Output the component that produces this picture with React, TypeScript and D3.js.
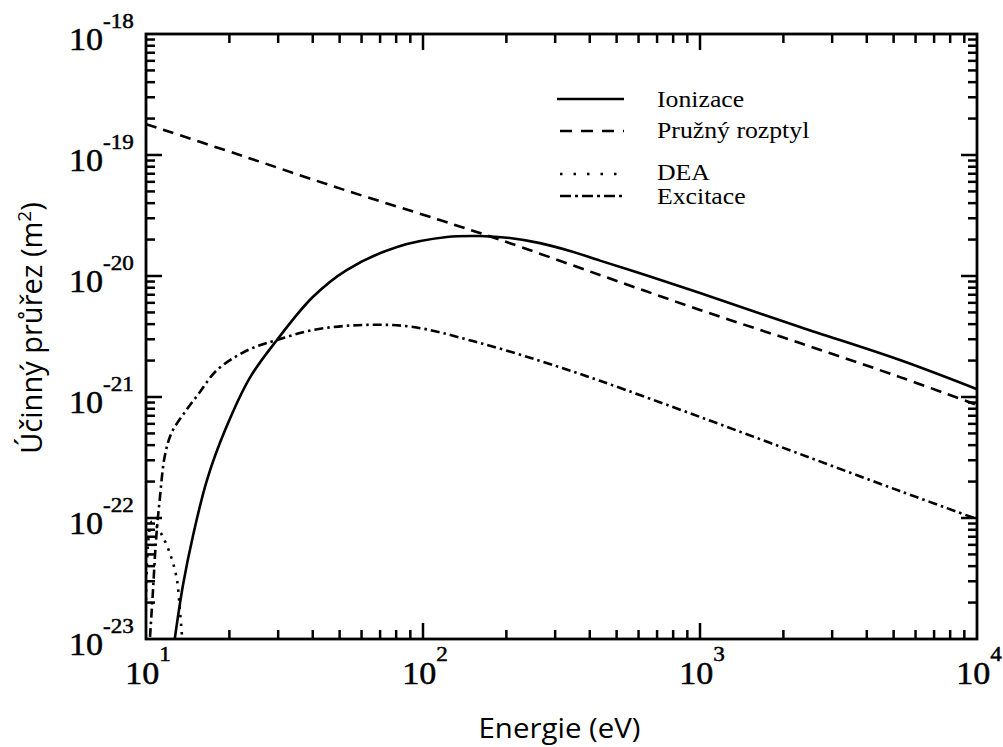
import React from "react";
import * as d3 from "d3";

// ---- data ----
const ionE = [12.7, 13.6, 14.8, 16.6, 19.3, 23.7, 29.7, 40, 53, 80.6, 122, 160.6, 206, 264.5, 339.5, 435.5, 660, 1000, 2296, 5270, 10000];
const ionS = [1e-23, 2.79e-23, 7.24e-23, 2.06e-22, 5.33e-22, 1.44e-21, 2.96e-21, 6.7e-21, 1.12e-20, 1.74e-20, 2.1e-20, 2.14e-20, 2.06e-20, 1.87e-20, 1.61e-20, 1.34e-20, 9.9e-21, 7.24e-21, 3.79e-21, 2.02e-21, 1.16e-21];

const elE = [10, 21.8, 50, 115, 190, 435, 1000, 2296, 5272, 10000];
const elS = [1.8e-19, 1.0e-19, 5.3e-20, 2.9e-20, 1.99e-20, 1.02e-20, 5.24e-21, 2.79e-21, 1.46e-21, 8.6e-22];

const deaE = [10, 10.2, 10.5, 10.96, 11.5, 12.2, 12.9, 13.26, 13.5];
const deaS = [2.1e-23, 6.6e-23, 9.3e-23, 8.4e-23, 7.0e-23, 5.1e-23, 3.2e-23, 1.7e-23, 1.04e-23];

const exE = [10.34, 10.6, 10.87, 11.23, 11.71, 12.41, 13.83, 15.66, 17.75, 20.96, 24.75, 29.7, 40, 60.8, 92, 151.3, 264.5, 435.5, 1000, 2296, 5270, 10000];
const exS = [1.04e-23, 2.54e-23, 6.58e-23, 1.49e-22, 3.32e-22, 5.14e-22, 7.52e-22, 1.1e-21, 1.61e-21, 2.14e-21, 2.59e-21, 2.96e-21, 3.58e-21, 3.94e-21, 3.79e-21, 2.9e-21, 1.99e-21, 1.36e-21, 6.84e-22, 3.38e-22, 1.67e-22, 9.8e-23];

const seriesNames = ["Ionizace", "Pružný rozptyl", "DEA", "Excitace"];
const xTickExps = [1, 2, 3, 4];
const yTickExps = [-18, -19, -20, -21, -22, -23];
const xTitle = "Energie (eV)";
const yTitle = "Účinný průřez (m";

// ---- layout ----
const W = 1003, H = 747;
const L = 146, R = 977, T = 34, B = 639;

const dashes = ["none", "11,7", "2.5,6", "9,4,2.5,4"];
const legendDashes = ["none", "12,9", "2.5,11", "11,4,3,4"];
const serif = "'Liberation Serif', 'Times New Roman', serif";

export default function App() {
  const x = d3.scaleLog().domain([10, 1e4]).range([L, R]);
  const y = d3.scaleLog().domain([1e-23, 1e-18]).range([B, T]);
  const line = d3
    .line<[number, number]>()
    .x((d) => x(d[0]))
    .y((d) => y(d[1]))
    .curve(d3.curveCatmullRom.alpha(0.5));

  const series = [
    d3.zip(ionE, ionS) as [number, number][],
    d3.zip(elE, elS) as [number, number][],
    d3.zip(deaE, deaS) as [number, number][],
    d3.zip(exE, exS) as [number, number][],
  ];

  const xt = x.ticks();
  const yt = y.ticks();
  const isMajor = (v: number) => Math.abs(Math.log10(v) - Math.round(Math.log10(v))) < 1e-6;
  const MAJ = 16, MIN = 9;

  const legendY = [99, 131, 174, 196];
  const legendTextY = [107, 138, 180, 204];

  return (
    <svg width={W} height={H} style={{ position: "absolute", left: 0, top: 0, background: "#fff" }}>
      <defs>
        <clipPath id="plot">
          <rect x={L} y={T} width={R - L} height={B - T} />
        </clipPath>
      </defs>
      <rect x={0} y={0} width={W} height={H} fill="#fff" />

      {/* curves */}
      <g clipPath="url(#plot)">
        {series.map((s, i) => (
          <path
            key={i}
            d={line(s) || ""}
            fill="none"
            stroke="#000"
            strokeWidth={2.6}
            strokeDasharray={dashes[i]}
          />
        ))}
      </g>

      {/* ticks */}
      <g stroke="#000" strokeWidth={2.5}>
        {xt.map((v, i) => {
          const len = isMajor(v) ? MAJ : MIN;
          const px = x(v);
          if (px <= L + 1 || px >= R - 1) return null;
          return (
            <g key={"x" + i}>
              <line x1={px} x2={px} y1={B} y2={B - len} />
              <line x1={px} x2={px} y1={T} y2={T + len} />
            </g>
          );
        })}
        {yt.map((v, i) => {
          const len = isMajor(v) ? MAJ : MIN;
          const py = y(v);
          if (py <= T + 1 || py >= B - 1) return null;
          return (
            <g key={"y" + i}>
              <line x1={L} x2={L + len} y1={py} y2={py} />
              <line x1={R} x2={R - len} y1={py} y2={py} />
            </g>
          );
        })}
      </g>
      <rect x={L} y={T} width={R - L} height={B - T} fill="none" stroke="#000" strokeWidth={2.8} />

      {/* x tick labels */}
      {xTickExps.map((e) => (
        <g key={"xl" + e} transform={`translate(${x(Math.pow(10, e)) + 2},684) scale(1.1,1)`}>
          <text x={0} y={0} textAnchor="middle" fontFamily={serif} fontSize={31} fill="#000" stroke="#000" strokeWidth={0.5}>
            10<tspan dy={-23} fontSize={21}>{e}</tspan>
          </text>
        </g>
      ))}

      {/* y tick labels */}
      {yTickExps.map((e) => (
        <g key={"yl" + e} transform={`translate(69,${y(Math.pow(10, e)) + 16}) scale(1.1,1)`}>
          <text x={0} y={0} textAnchor="start" fontFamily={serif} fontSize={31} fill="#000" stroke="#000" strokeWidth={0.5}>
            10<tspan dy={-22} fontSize={21}>{"-" + Math.abs(e)}</tspan>
          </text>
        </g>
      ))}

      {/* axis titles */}
      <text
        x={(L + R) / 2 - 2}
        y={738}
        textAnchor="middle"
        fontFamily="'Open Sans', 'Noto Sans', sans-serif"
        fontSize={27}
        textLength={162}
        lengthAdjust="spacingAndGlyphs"
        fill="#000"
      >
        {xTitle}
      </text>
      <g transform="translate(42,328) rotate(-90)">
        <text x={0} y={0} textAnchor="middle" fontFamily="'Open Sans', 'Noto Sans', sans-serif" fontSize={29} fill="#000">
          {yTitle}
          <tspan dy={-11} fontSize={19}>2</tspan>
          <tspan dy={11}>)</tspan>
        </text>
      </g>

      {/* legend */}
      {seriesNames.map((n, i) => (
        <g key={"lg" + i}>
          <line
            x1={i === 0 ? 557 : 560}
            x2={624}
            y1={legendY[i]}
            y2={legendY[i]}
            stroke="#000"
            strokeWidth={2.3}
            strokeDasharray={legendDashes[i]}
          />
          <g transform={`translate(657,${legendTextY[i]}) scale(1.12,1)`}>
            <text x={0} y={0} fontFamily={serif} fontSize={23} fill="#000">
              {n}
            </text>
          </g>
        </g>
      ))}
    </svg>
  );
}
